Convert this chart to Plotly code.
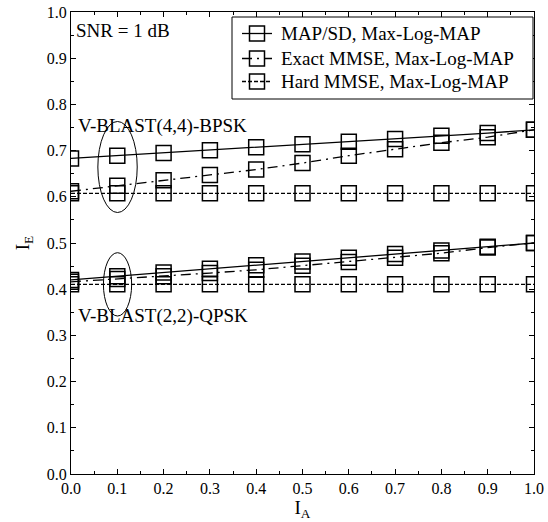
import plotly.graph_objects as go

ia = [0.0, 0.1, 0.2, 0.3, 0.4, 0.5, 0.6, 0.7, 0.8, 0.9, 1.0]

map_bpsk = [0.683, 0.689, 0.695, 0.701, 0.707, 0.714, 0.719, 0.725, 0.732, 0.738, 0.745]
exact_bpsk = [0.612, 0.624, 0.636, 0.647, 0.659, 0.673, 0.689, 0.703, 0.717, 0.729, 0.745]
hard_bpsk = [0.6075] * 11

map_qpsk = [0.420, 0.428, 0.436, 0.444, 0.452, 0.460, 0.468, 0.476, 0.484, 0.492, 0.500]
exact_qpsk = [0.416, 0.422, 0.428, 0.435, 0.442, 0.451, 0.459, 0.468, 0.478, 0.490, 0.500]
hard_qpsk = [0.4105] * 11

series_names = ["MAP/SD, Max-Log-MAP", "Exact MMSE, Max-Log-MAP", "Hard MMSE, Max-Log-MAP"]
label_bpsk = "V-BLAST(4,4)-BPSK"
label_qpsk = "V-BLAST(2,2)-QPSK"
label_snr = "SNR = 1 dB"

FONT = "Liberation Serif, Times New Roman, serif"
dashes = ["solid", "10px,5px,2px,5px", "4px,2px"]

W, H = 548, 522
PL, PR, PT, PB = 71, 534, 12, 474          # plot edges in window pixels
ML, MR, MT, MB = PL, W - PR, PT, H - PB
PW, PH = PR - PL, PB - PT


def px(x):
    return (x - PL) / PW


def py(y):
    return (PB - y) / PH


fig = go.Figure()
groups = [(map_bpsk, map_qpsk), (exact_bpsk, exact_qpsk), (hard_bpsk, hard_qpsk)]
for i, (yb, yq) in enumerate(groups):
    for ys in (yb, yq):
        fig.add_trace(go.Scatter(
            x=ia, y=ys, mode="lines+markers",
            name=series_names[i], showlegend=False,
            line=dict(color="black", width=1.3, dash=dashes[i]),
            marker=dict(symbol="square-open", size=15, color="black",
                        line=dict(color="black", width=1.5)),
        ))

# ellipses around the 0.1 points
fig.add_shape(type="circle", xref="x", yref="y", x0=0.058, x1=0.143, y0=0.566, y1=0.763,
              line=dict(color="black", width=1))
fig.add_shape(type="circle", xref="x", yref="y", x0=0.070, x1=0.131, y0=0.342, y1=0.479,
              line=dict(color="black", width=1))

fig.add_annotation(x=0.011, y=0.753, xref="x", yref="y", text=label_bpsk, showarrow=False,
                   xanchor="left", yanchor="middle", font=dict(family=FONT, size=19, color="black"))
fig.add_annotation(x=0.011, y=0.342, xref="x", yref="y", text=label_qpsk, showarrow=False,
                   xanchor="left", yanchor="middle", font=dict(family=FONT, size=19, color="black"))
fig.add_annotation(x=0.006, y=0.961, xref="x", yref="y", text=label_snr, showarrow=False,
                   xanchor="left", yanchor="middle", font=dict(family=FONT, size=19, color="black"))

# legend box (drawn by hand to match row spacing)
fig.add_shape(type="rect", xref="paper", yref="paper", x0=px(232), x1=px(533), y0=py(99), y1=py(17),
              line=dict(color="black", width=1), fillcolor="white", layer="above")
rows = [33.5, 58.5, 81.5]
for i, ry in enumerate(rows):
    fig.add_shape(type="line", xref="paper", yref="paper", x0=px(242), x1=px(272), y0=py(ry), y1=py(ry),
                  line=dict(color="black", width=1.3, dash=dashes[i]), layer="above")
    fig.add_shape(type="rect", xref="paper", yref="paper", x0=px(249.5), x1=px(264.5),
                  y0=py(ry + 7.5), y1=py(ry - 7.5),
                  line=dict(color="black", width=1.5), layer="above")
    fig.add_annotation(x=px(279), y=py(ry), xref="paper", yref="paper", text=series_names[i],
                       showarrow=False, xanchor="left", yanchor="middle",
                       font=dict(family=FONT, size=19, color="black"))

axis_common = dict(
    showline=True, linecolor="black", linewidth=1, mirror="allticks",
    ticks="inside", ticklen=5, tickwidth=1, tickcolor="black",
    showgrid=False, zeroline=False, ticklabeloverflow="allow",
    tickfont=dict(family=FONT, size=16, color="black"),
    minor=dict(ticks="inside", ticklen=3, tickwidth=1, tickcolor="black", dtick=0.05, showgrid=False),
    dtick=0.1, tickformat=".1f",
)

fig.update_xaxes(range=[0, 1], title=dict(text="I<sub>A</sub>", font=dict(family=FONT, size=19, color="black"), standoff=0),
                 **axis_common)
fig.update_yaxes(range=[0, 1], title=dict(text="I<sub>E</sub>", font=dict(family=FONT, size=19, color="black"), standoff=12),
                 **axis_common)

fig.update_layout(
    width=W, height=H,
    margin=dict(l=ML, r=MR, t=MT, b=MB, autoexpand=False),
    plot_bgcolor="white", paper_bgcolor="white",
    font=dict(family=FONT, color="black"),
    showlegend=False,
)

# remove the default 8px page margin so the 548x522 figure fills the window
fig.write_html("out.html", config={"displayModeBar": False},
               post_script="document.body.style.margin='0px';")
